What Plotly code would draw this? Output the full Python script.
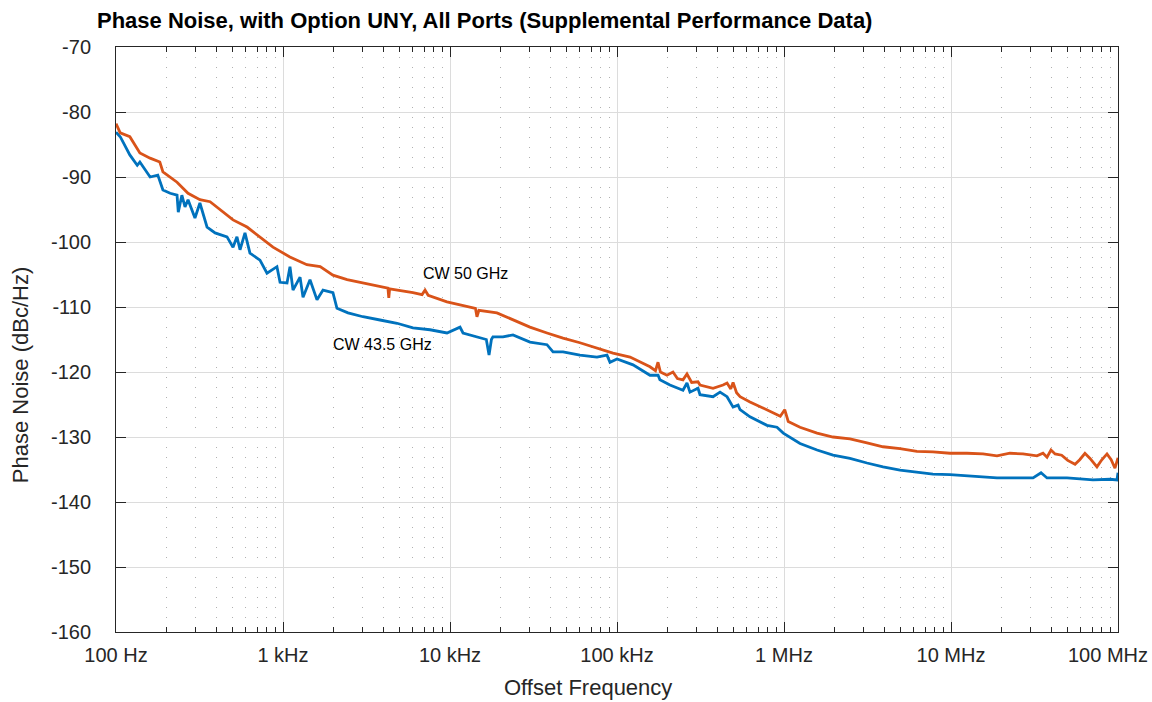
import math
import plotly.graph_objects as go

# Offset frequency (Hz) and phase noise (dBc/Hz), CW 50 GHz
freq_50 = [100, 106, 121, 139, 160, 183, 191, 232, 270, 318, 366, 437, 502, 609, 728, 871,
           1100, 1390, 1670, 1990, 2420, 3010, 3810, 4250, 4300, 4350, 6000, 6800, 7090, 7400,
           9590, 11970, 14200, 14500, 14900, 19100, 23800, 30100, 38100, 47500, 60000, 75900,
           94600, 119700, 157600, 170000, 176000, 182000, 199100, 216400, 230000, 248400, 262400,
           280000, 305500, 314000, 375800, 431500, 456000, 480000, 495500, 520000, 545800, 625700,
           790700, 950000, 1010000, 1060000, 1247000, 1577000, 1965000, 2484000, 3140000, 3918000,
           4950000, 6250000, 7800000, 9860000, 12460000, 15550000, 18850000, 22540000, 26980000,
           32700000, 35560000, 37570000, 39700000, 42000000, 46000000, 50000000, 55300000,
           59000000, 63400000, 68000000, 74800000, 80000000, 85900000, 91000000, 95900000, 100000000]
pn_50 = [-81.8, -83.2, -83.8, -86.3, -87.1, -87.7, -89.2, -90.8, -92.5, -93.5, -93.8, -95.4, -96.6,
         -97.7, -99.2, -100.8, -102.3, -103.5, -103.8, -105.1, -105.8, -106.3, -106.9, -107.1,
         -108.6, -107.2, -107.8, -108.1, -107.4, -108.2, -109.2, -109.7, -110.2, -111.5, -110.5,
         -110.9, -112.0, -113.1, -114.0, -114.8, -115.5, -116.3, -117.1, -117.7, -119.2, -119.8,
         -118.5, -120.0, -120.5, -120.0, -121.0, -121.2, -120.3, -121.6, -121.5, -122.0, -122.5,
         -122.0, -121.7, -122.6, -121.6, -123.2, -123.8, -124.6, -125.8, -126.8, -125.8, -127.6,
         -128.5, -129.4, -130.0, -130.3, -130.9, -131.5, -131.8, -132.2, -132.3, -132.5, -132.5,
         -132.6, -132.9, -132.5, -132.6, -132.9, -132.5, -133.1, -132.0, -132.6, -132.8, -133.6,
         -134.2, -133.5, -132.5, -133.3, -134.6, -133.5, -132.6, -133.5, -134.8, -133.2]

# Offset frequency (Hz) and phase noise (dBc/Hz), CW 43.5 GHz
freq_43 = [100, 106, 121, 134, 139, 160, 178, 191, 211, 232, 236, 248, 259, 270, 297, 318, 351,
           392, 462, 502, 530, 553, 592, 634, 728, 802, 920, 960, 1057, 1101, 1148, 1265, 1318,
           1451, 1598, 1736, 1991, 2105, 2450, 3013, 3810, 4819, 6001, 7590, 9594, 11480, 11966,
           15100, 16500, 17130, 17700, 18070, 20750, 23838, 26240, 30128, 38087, 41400, 47513,
           59980, 75858, 87100, 90800, 100000, 124700, 157600, 176200, 180700, 207500, 248400,
           262400, 273500, 305500, 314000, 375800, 414000, 456000, 495500, 531000, 545800, 625700,
           790700, 907600, 990000, 1247000, 1577000, 1965000, 2484000, 3140000, 3918000, 4950000,
           6250000, 7800000, 9860000, 12460000, 15550000, 18850000, 24800000, 31000000, 34600000,
           37570000, 49500000, 61700000, 70800000, 89600000, 98600000, 100000000]
pn_43 = [-83.1, -83.8, -86.6, -88.2, -87.7, -90.0, -89.7, -92.0, -92.5, -92.8, -95.4, -92.8,
         -94.6, -93.5, -96.3, -94.0, -97.7, -98.6, -99.2, -100.8, -99.2, -101.2, -98.6, -101.7,
         -102.8, -104.8, -103.8, -106.2, -106.3, -103.8, -107.4, -105.4, -108.5, -105.8, -108.9,
         -107.4, -107.8, -110.2, -110.9, -111.5, -112.0, -112.5, -113.2, -113.5, -114.0, -113.1,
         -114.0, -114.8, -115.0, -117.4, -115.0, -114.6, -114.6, -114.3, -114.8, -115.4, -115.8,
         -116.9, -116.9, -117.4, -117.7, -117.4, -118.5, -118.0, -118.9, -120.5, -120.5, -121.2,
         -122.0, -122.8, -121.7, -123.1, -122.5, -123.5, -123.8, -123.1, -123.8, -125.4, -125.1,
         -125.8, -126.9, -128.2, -128.5, -129.4, -131.0, -132.0, -132.8, -133.3, -134.0, -134.6,
         -135.1, -135.4, -135.7, -135.8, -136.0, -136.2, -136.3, -136.3, -136.3, -135.5, -136.3,
         -136.3, -136.5, -136.6, -136.5, -136.6, -135.5]

x_tick_vals = [1e2, 1e3, 1e4, 1e5, 1e6, 1e7, 1e8]
x_tick_text = ["100 Hz", "1 kHz", "10 kHz", "100 kHz", "1 MHz", "10 MHz", "100 MHz"]
x_minor_vals = [k * 10 ** n for n in range(2, 8) for k in range(2, 10)]
y_tick_vals = list(range(-160, -69, 10))
y_tick_text = [str(v) for v in y_tick_vals]

orange = "#D95319"
blue = "#0072BD"
axis_col = "#262626"
font_family = "Liberation Sans, Arial, Helvetica, sans-serif"

fig = go.Figure()
fig.add_trace(go.Scatter(x=freq_43, y=pn_43, mode="lines", name="CW 43.5 GHz",
                         line=dict(color=blue, width=2.8)))
fig.add_trace(go.Scatter(x=freq_50, y=pn_50, mode="lines", name="CW 50 GHz",
                         line=dict(color=orange, width=2.8)))

fig.add_annotation(x=math.log10(12300), y=-104.9, text="CW 50 GHz", showarrow=False,
                   font=dict(size=16, color="#000000", family=font_family))
fig.add_annotation(x=math.log10(3920), y=-115.7, text="CW 43.5 GHz", showarrow=False,
                   font=dict(size=16, color="#000000", family=font_family))

# The rightmost decade label is drawn separately, nudged left so it stays on the page
axis_labels = list(x_tick_text[:-1]) + [""]
fig.add_annotation(x=math.log10(x_tick_vals[-1]), xref="x", yref="paper", y=-0.0393,
                   text=x_tick_text[-1], showarrow=False, xanchor="center", yanchor="middle",
                   xshift=-10, font=dict(size=20, color=axis_col, family=font_family))

# Axis titles placed as paper annotations
fig.add_annotation(xref="paper", yref="paper", x=-0.0958, y=0.439, text="Phase Noise (dBc/Hz)",
                   textangle=-90, showarrow=False, xanchor="center", yanchor="middle",
                   font=dict(size=22, color=axis_col, family=font_family))
fig.add_annotation(xref="paper", yref="paper", x=0.471, y=-0.0957, text="Offset Frequency",
                   showarrow=False, xanchor="center", yanchor="middle",
                   font=dict(size=22, color=axis_col, family=font_family))

fig.update_layout(
    width=1152, height=702,
    margin=dict(l=116, r=34, t=47, b=70, autoexpand=False),
    paper_bgcolor="white", plot_bgcolor="white",
    showlegend=False,
    font=dict(family=font_family, color=axis_col, size=20),
    title=dict(text="<b>Phase Noise, with Option UNY, All Ports (Supplemental Performance Data)</b>",
               x=97 / 1152, xanchor="left", xref="container",
               y=1 - 20 / 702, yanchor="middle", yref="container",
               font=dict(size=22, color="#000000", family=font_family)),
    xaxis=dict(type="log", range=[2, 8.00001], tickmode="array", tickvals=x_tick_vals,
               ticktext=axis_labels, ticks="inside", ticklen=10, tickwidth=1, tickcolor=axis_col,
               showline=True, linecolor=axis_col, linewidth=1, mirror="ticks", automargin=False,
               showgrid=True, gridcolor="#dcdcdc", gridwidth=1, zeroline=False,
               tickfont=dict(size=20, color=axis_col), ticklabelstandoff=5,
               minor=dict(tickmode="array", tickvals=x_minor_vals, ticks="inside", ticklen=5,
                          tickcolor=axis_col, showgrid=True, gridcolor="#b0b0b0",
                          griddash="1px,9px", gridwidth=1)),
    yaxis=dict(range=[-160, -70], tickmode="array", tickvals=y_tick_vals, ticktext=y_tick_text,
               ticks="inside", ticklen=10, tickwidth=1, tickcolor=axis_col,
               showline=True, linecolor=axis_col, linewidth=1, mirror="ticks", automargin=False,
               showgrid=True, gridcolor="#dcdcdc", gridwidth=1, zeroline=False,
               tickfont=dict(size=20, color=axis_col), ticklabelstandoff=20),
)

fig.write_html("out.html")
